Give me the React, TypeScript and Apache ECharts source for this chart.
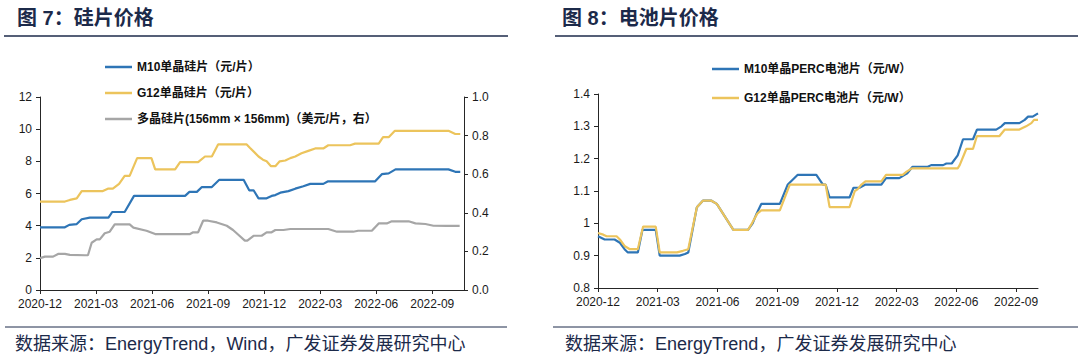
import React, { useEffect, useRef } from "react";
import * as echarts from "echarts";

// ---------- Tick labels ----------
const quarterLabels = ["2020-12", "2021-03", "2021-06", "2021-09", "2021-12", "2022-03", "2022-06", "2022-09"];

// ---------- Figure 7: wafer prices ----------
const m10WaferDates = [
  "2020-12-01", "2021-01-11", "2021-01-18", "2021-01-30", "2021-02-08", "2021-02-21", "2021-03-21", "2021-03-27",
  "2021-04-17", "2021-05-02", "2021-07-24", "2021-08-01", "2021-08-13", "2021-08-21", "2021-09-07", "2021-09-19",
  "2021-10-28", "2021-11-07", "2021-11-14", "2021-11-22", "2021-12-05", "2021-12-13", "2021-12-19", "2021-12-27",
  "2022-01-10", "2022-01-21", "2022-02-04", "2022-02-15", "2022-03-06", "2022-03-13", "2022-05-29", "2022-06-10",
  "2022-06-21", "2022-07-02", "2022-09-27", "2022-10-08", "2022-10-16",
];
const m10WaferPrices = [
  3.9, 3.9, 4.05, 4.1, 4.4, 4.5, 4.5, 4.85,
  4.85, 5.85, 5.85, 6.1, 6.1, 6.4, 6.4, 6.85,
  6.85, 6.2, 6.2, 5.7, 5.7, 5.85, 5.9, 6.05,
  6.15, 6.3, 6.45, 6.6, 6.6, 6.75, 6.75, 7.2,
  7.25, 7.5, 7.5, 7.35, 7.35,
];

const g12WaferDates = [
  "2020-12-01", "2021-01-11", "2021-01-19", "2021-01-30", "2021-02-08", "2021-03-12", "2021-03-20", "2021-03-28",
  "2021-04-08", "2021-04-17", "2021-04-25", "2021-05-07", "2021-05-30", "2021-06-06", "2021-07-08", "2021-07-16",
  "2021-08-15", "2021-08-26", "2021-09-07", "2021-09-17", "2021-11-03", "2021-11-08", "2021-11-22", "2021-11-29",
  "2021-12-05", "2021-12-12", "2021-12-19", "2021-12-26", "2022-01-05", "2022-01-13", "2022-01-21", "2022-02-01",
  "2022-02-12", "2022-02-23", "2022-03-06", "2022-03-14", "2022-04-19", "2022-04-27", "2022-06-05", "2022-06-12",
  "2022-06-21", "2022-07-01", "2022-09-27", "2022-10-08", "2022-10-16",
];
const g12WaferPrices = [
  5.5, 5.5, 5.6, 5.7, 6.15, 6.15, 6.3, 6.3,
  6.6, 7.1, 7.1, 8.2, 8.2, 7.5, 7.5, 7.95,
  7.95, 8.3, 8.3, 9.05, 9.05, 8.85, 8.3, 8.1,
  8.0, 7.7, 7.7, 8.0, 8.05, 8.2, 8.3, 8.5,
  8.65, 8.8, 8.8, 9.0, 9.0, 9.1, 9.1, 9.5,
  9.5, 9.9, 9.9, 9.7, 9.7,
];

const polyWaferDates = [
  "2020-12-01", "2020-12-09", "2020-12-22", "2020-12-30", "2021-01-11", "2021-01-19", "2021-02-13", "2021-02-18",
  "2021-02-24", "2021-03-02", "2021-03-07", "2021-03-15", "2021-03-23", "2021-04-01", "2021-04-25", "2021-05-01",
  "2021-05-22", "2021-06-06", "2021-08-02", "2021-08-07", "2021-08-15", "2021-08-23", "2021-09-01", "2021-09-15",
  "2021-10-01", "2021-10-11", "2021-10-20", "2021-10-30", "2021-11-04", "2021-11-14", "2021-11-27", "2021-12-05",
  "2021-12-13", "2021-12-19", "2022-01-02", "2022-01-13", "2022-03-14", "2022-03-28", "2022-04-24", "2022-05-02",
  "2022-05-24", "2022-06-05", "2022-06-18", "2022-06-26", "2022-07-23", "2022-08-04", "2022-08-20", "2022-09-03",
  "2022-09-24", "2022-10-15",
];
const polyWaferPricesUsd = [
  0.165, 0.173, 0.173, 0.187, 0.187, 0.182, 0.18, 0.18,
  0.245, 0.262, 0.262, 0.294, 0.302, 0.34, 0.34, 0.323,
  0.307, 0.29, 0.29, 0.299, 0.299, 0.359, 0.359, 0.35,
  0.333, 0.311, 0.285, 0.256, 0.256, 0.281, 0.281, 0.299,
  0.299, 0.311, 0.311, 0.316, 0.316, 0.302, 0.302, 0.307,
  0.307, 0.345, 0.345, 0.356, 0.356, 0.345, 0.342, 0.333,
  0.332, 0.332,
];

// ---------- Figure 8: cell prices ----------
const m10CellDates = [
  "2020-12-01", "2020-12-11", "2020-12-26", "2021-01-04", "2021-01-11", "2021-01-16", "2021-01-31", "2021-02-08",
  "2021-02-28", "2021-03-04", "2021-04-04", "2021-04-12", "2021-04-17", "2021-04-30", "2021-05-09", "2021-05-22",
  "2021-05-30", "2021-06-25", "2021-07-17", "2021-07-24", "2021-07-30", "2021-08-07", "2021-09-05", "2021-09-17",
  "2021-10-02", "2021-10-30", "2021-11-10", "2021-11-14", "2021-11-20", "2021-12-20", "2021-12-26", "2022-01-05",
  "2022-01-14", "2022-02-08", "2022-02-15", "2022-03-05", "2022-03-13", "2022-03-17", "2022-03-25", "2022-04-18",
  "2022-04-23", "2022-05-11", "2022-05-16", "2022-05-24", "2022-06-03", "2022-06-11", "2022-06-26", "2022-07-02",
  "2022-08-01", "2022-08-09", "2022-08-14", "2022-09-06", "2022-09-14", "2022-09-19", "2022-09-26", "2022-10-04",
];
const m10CellPrices = [
  0.96, 0.95, 0.95, 0.94, 0.92, 0.91, 0.91, 0.98,
  0.98, 0.9, 0.9, 0.905, 0.91, 1.05, 1.07, 1.07,
  1.06, 0.98, 0.98, 1.0, 1.03, 1.06, 1.06, 1.12,
  1.15, 1.15, 1.12, 1.12, 1.08, 1.08, 1.11, 1.11,
  1.12, 1.12, 1.14, 1.14, 1.15, 1.155, 1.175, 1.175,
  1.18, 1.18, 1.185, 1.185, 1.21, 1.26, 1.26, 1.29,
  1.29, 1.3, 1.31, 1.31, 1.32, 1.33, 1.33, 1.34,
];

const g12CellDates = [
  "2020-12-01", "2020-12-09", "2020-12-14", "2020-12-29", "2021-01-04", "2021-01-11", "2021-01-19", "2021-02-01",
  "2021-02-09", "2021-02-28", "2021-03-04", "2021-03-30", "2021-04-09", "2021-04-17", "2021-04-30", "2021-05-09",
  "2021-05-22", "2021-05-30", "2021-06-25", "2021-07-17", "2021-07-23", "2021-07-31", "2021-08-07", "2021-09-05",
  "2021-09-20", "2021-11-14", "2021-11-20", "2021-12-20", "2021-12-28", "2022-01-02", "2022-01-08", "2022-01-14",
  "2022-02-08", "2022-02-15", "2022-03-10", "2022-03-16", "2022-03-24", "2022-06-03", "2022-06-06", "2022-06-16",
  "2022-06-26", "2022-07-02", "2022-08-06", "2022-08-14", "2022-09-06", "2022-09-16", "2022-09-24", "2022-09-28",
  "2022-10-04",
];
const g12CellPrices = [
  0.97, 0.965, 0.96, 0.96, 0.95, 0.93, 0.92, 0.92,
  0.99, 0.99, 0.91, 0.91, 0.915, 0.92, 1.05, 1.07,
  1.07, 1.06, 0.98, 0.98, 1.0, 1.03, 1.04, 1.04,
  1.12, 1.12, 1.05, 1.05, 1.1, 1.105, 1.12, 1.13,
  1.13, 1.15, 1.15, 1.16, 1.17, 1.17, 1.18, 1.23,
  1.23, 1.27, 1.27, 1.29, 1.29, 1.3, 1.31, 1.32,
  1.32,
];

// ---------- Names ----------
const waferSeriesNames = ["M10单晶硅片（元/片）", "G12单晶硅片（元/片）", "多晶硅片(156mm × 156mm)（美元/片，右）"];
const cellSeriesNames = ["M10单晶PERC电池片（元/W）", "G12单晶PERC电池片（元/W）"];

const BLUE = "#2e75b6";
const YELLOW = "#ecc45c";
const GRAY = "#a6a6a6";
const NAVY = "#1c2a4a";
const FONT = "'Liberation Sans', Arial, 'Noto Sans CJK SC', sans-serif";

// months since 2020-12-01
function toMonthIndex(d: string): number {
  const [y, mo, day] = d.split("-").map(Number);
  return (y - 2020) * 12 + (mo - 12) + (day - 1) / 30;
}
function pairs(dates: string[], values: number[]) {
  return dates.map((d, i) => [toMonthIndex(d), values[i]]);
}
function monthLabel(v: number): string {
  const idx = Math.round(v / 3);
  if (Math.abs(v - idx * 3) > 0.01) return "";
  return quarterLabels[idx] ?? "";
}

const axisLineStyle = { color: "#262626", width: 1 };
const labelStyle = { color: "#1a1a1a", fontSize: 12, fontFamily: FONT };

function makeXAxis(gridIndex: number, max: number) {
  return {
    type: "value",
    gridIndex,
    min: 0,
    max,
    interval: 3,
    axisLine: { show: true, lineStyle: axisLineStyle },
    axisTick: { show: true, length: 4, lineStyle: axisLineStyle },
    axisLabel: { ...labelStyle, margin: 8, formatter: monthLabel, showMaxLabel: false },
    splitLine: { show: false },
  };
}

export default function App() {
  const ref = useRef<HTMLDivElement>(null);

  useEffect(() => {
    if (!ref.current) return;
    const chart = echarts.init(ref.current, undefined, { renderer: "svg" });

    const lineSeries = (name: string, data: number[][], color: string, xi: number, yi: number) => ({
      name,
      type: "line",
      xAxisIndex: xi,
      yAxisIndex: yi,
      data,
      symbol: "none",
      showSymbol: false,
      lineStyle: { color, width: 2.2 },
      itemStyle: { color },
      z: 3,
    });

    const legendText = { color: "#111", fontSize: 12, fontWeight: "bold", fontFamily: FONT, lineHeight: 14 };

    chart.setOption({
      animation: false,
      backgroundColor: "#ffffff",
      grid: [
        { left: 40, right: 616, top: 97, bottom: 70 },
        { left: 598, right: 42, top: 94, bottom: 72 },
      ],
      xAxis: [makeXAxis(0, 22.7), makeXAxis(1, 22.1)],
      yAxis: [
        {
          type: "value", gridIndex: 0, min: 0, max: 12, interval: 2, position: "left",
          axisLine: { show: true, lineStyle: axisLineStyle },
          axisTick: { show: true, length: 4, lineStyle: axisLineStyle },
          axisLabel: { ...labelStyle, margin: 8 },
          splitLine: { show: false },
        },
        {
          type: "value", gridIndex: 0, min: 0, max: 1, interval: 0.2, position: "right",
          axisLine: { show: true, lineStyle: axisLineStyle },
          axisTick: { show: true, length: 4, lineStyle: axisLineStyle },
          axisLabel: { ...labelStyle, margin: 8, formatter: (v: number) => v.toFixed(1) },
          splitLine: { show: false },
        },
        {
          type: "value", gridIndex: 1, min: 0.8, max: 1.4, interval: 0.1, position: "left",
          axisLine: { show: true, lineStyle: axisLineStyle },
          axisTick: { show: true, length: 4, lineStyle: axisLineStyle },
          axisLabel: { ...labelStyle, margin: 8, formatter: (v: number) => String(Math.round(v * 10) / 10) },
          splitLine: { show: false },
        },
      ],
      legend: [
        {
          data: waferSeriesNames,
          orient: "vertical",
          left: 100,
          top: 55,
          icon: "rect",
          itemWidth: 27,
          itemHeight: 2.5,
          itemGap: 12,
          textStyle: legendText,
        },
        {
          data: cellSeriesNames,
          orient: "vertical",
          left: 707,
          top: 57,
          icon: "rect",
          itemWidth: 27,
          itemHeight: 2.5,
          itemGap: 15,
          textStyle: legendText,
        },
      ],
      series: [
        lineSeries(waferSeriesNames[0], pairs(m10WaferDates, m10WaferPrices), BLUE, 0, 0),
        lineSeries(waferSeriesNames[1], pairs(g12WaferDates, g12WaferPrices), YELLOW, 0, 0),
        lineSeries(waferSeriesNames[2], pairs(polyWaferDates, polyWaferPricesUsd), GRAY, 0, 1),
        lineSeries(cellSeriesNames[0], pairs(m10CellDates, m10CellPrices), BLUE, 1, 2),
        lineSeries(cellSeriesNames[1], pairs(g12CellDates, g12CellPrices), YELLOW, 1, 2),
      ],
      graphic: [
        { type: "text", x: 17, y: 18, style: { text: "图 7：硅片价格", fill: NAVY, font: `bold 20px ${FONT}`, verticalAlign: "middle" } },
        { type: "text", x: 562, y: 18, style: { text: "图 8：电池片价格", fill: NAVY, font: `bold 20px ${FONT}`, verticalAlign: "middle" } },
        { type: "line", shape: { x1: 4, y1: 36, x2: 508, y2: 36 }, style: { stroke: NAVY, lineWidth: 1.5 } },
        { type: "line", shape: { x1: 555, y1: 36, x2: 1078, y2: 36 }, style: { stroke: NAVY, lineWidth: 1.5 } },
        { type: "line", shape: { x1: 5, y1: 327, x2: 507, y2: 327 }, style: { stroke: NAVY, lineWidth: 1 } },
        { type: "line", shape: { x1: 553, y1: 327, x2: 1078, y2: 327 }, style: { stroke: NAVY, lineWidth: 1 } },
        { type: "text", x: 15, y: 344, style: { text: "数据来源：EnergyTrend，Wind，广发证券发展研究中心", fill: NAVY, font: `18px ${FONT}`, verticalAlign: "middle" } },
        { type: "text", x: 565, y: 344, style: { text: "数据来源：EnergyTrend，广发证券发展研究中心", fill: NAVY, font: `18px ${FONT}`, verticalAlign: "middle" } },
      ],
    });

    return () => chart.dispose();
  }, []);

  return (
    <div
      ref={ref}
      style={{ position: "absolute", left: 0, top: 0, width: 1080, height: 360, background: "#fff" }}
    />
  );
}
